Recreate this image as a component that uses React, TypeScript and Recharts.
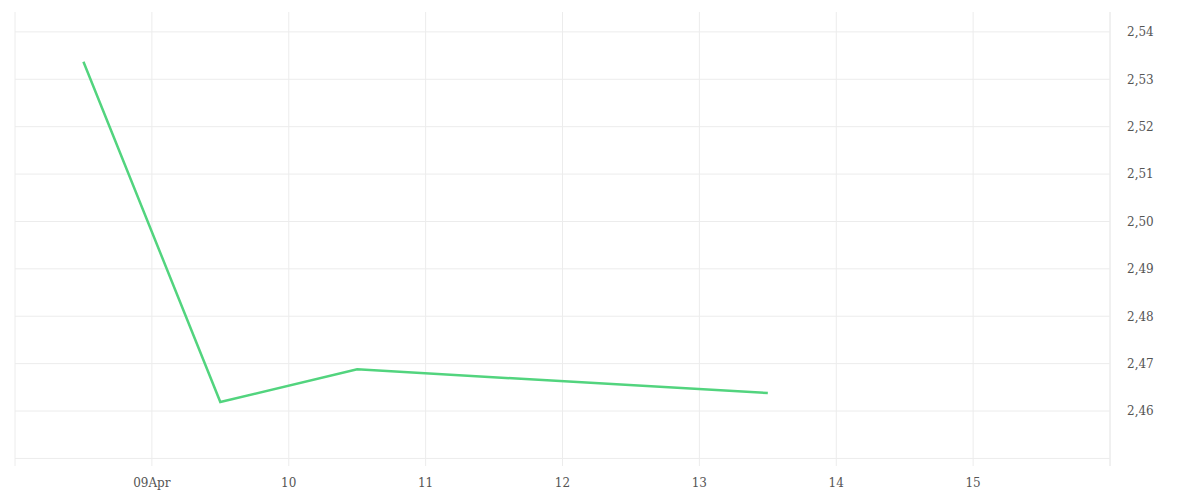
import React from 'react';
import { LineChart, Line, XAxis, YAxis, CartesianGrid } from 'recharts';

// days of April, readings taken at mid-day
const days = [8.5, 9.5, 10.5, 13.5];
const rates = [2.5337, 2.4619, 2.4688, 2.4638];

const xTicks = [8, 9, 10, 11, 12, 13, 14, 15, 16];
const xTickLabels: Record<number, string> = {
  9: '09Apr',
  10: '10',
  11: '11',
  12: '12',
  13: '13',
  14: '14',
  15: '15',
};
const yTicks = [2.45, 2.46, 2.47, 2.48, 2.49, 2.5, 2.51, 2.52, 2.53, 2.54];

const chartData = days.map((d, i) => ({ day: d, rate: rates[i] }));

const tickStyle = { fill: '#555', fontSize: 12, fontFamily: 'DejaVu Serif' };

export default function App() {
  return (
    <LineChart
      width={1184}
      height={488}
      data={chartData}
      margin={{ top: 4, right: 0, left: 7, bottom: 0 }}
    >
      <CartesianGrid stroke="#ececec" syncWithTicks />
      <XAxis
        dataKey="day"
        type="number"
        domain={[8, 16]}
        ticks={xTicks}
        tickFormatter={(v: number) => xTickLabels[v] ?? ''}
        axisLine={false}
        tickLine={false}
        height={30}
        tickMargin={6}
        tick={tickStyle}
        interval={0}
      />
      <YAxis
        orientation="right"
        type="number"
        domain={[2.4484, 2.5442]}
        ticks={yTicks}
        tickFormatter={(v: number) =>
          Math.abs(v - 2.45) < 1e-6 ? '' : v.toFixed(2).replace('.', ',')
        }
        axisLine={{ stroke: '#ececec' }}
        tickLine={false}
        width={82}
        tickMargin={11}
        tick={tickStyle}
        interval={0}
        allowDataOverflow
      />
      <Line
        type="linear"
        dataKey="rate"
        stroke="#52d47e"
        strokeWidth={2.5}
        dot={false}
        isAnimationActive={false}
      />
    </LineChart>
  );
}
